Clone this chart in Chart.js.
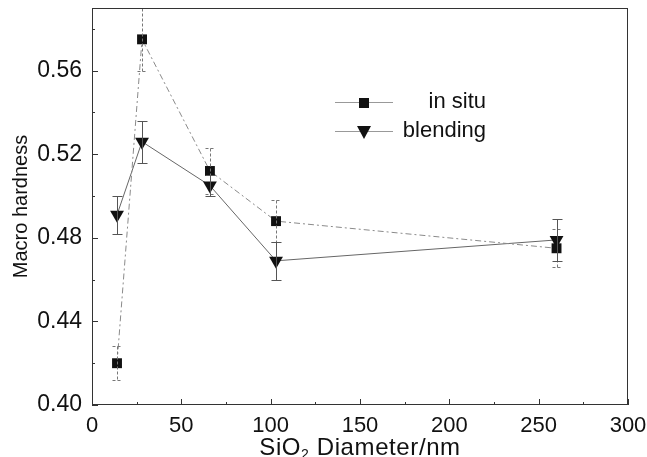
<!DOCTYPE html>
<html>
<head>
<meta charset="utf-8">
<script src="https://cdn.jsdelivr.net/npm/chart.js@4.4.0/dist/chart.umd.min.js"></script>
<style>
  body { margin: 0; background: #fff; }
  #wrap { width: 647px; height: 457px; }
</style>
</head>
<body>
<div id="wrap"><canvas id="hardness" width="647" height="457"></canvas></div>
<script>
diameters = [14, 28, 66, 103, 260];

inSitu    = [0.420, 0.575, 0.512, 0.488, 0.475];
inSituErr = [0.008, 0.015, 0.011, 0.010, 0.009];

blending    = [0.491, 0.526, 0.505, 0.469, 0.479];
blendingErr = [0.009, 0.010, 0.005, 0.009, 0.010];

xTicks = [0, 50, 100, 150, 200, 250, 300];
yTicks = [0.40, 0.44, 0.48, 0.52, 0.56];

seriesNames = ['in situ', 'blending'];

const FONT = "'Liberation Sans', Arial, sans-serif";

const toPoints = (ys) => diameters.map((d, i) => ({x: d, y: ys[i]}));

// error bars, inward ticks, frame, legend box and the x title with its subscript
const decorations = {
  id: 'decorations',
  afterDatasetsDraw(chart) {
    const ctx = chart.ctx;
    const xs = chart.scales.x, ys = chart.scales.y;
    const a = chart.chartArea;

    ctx.save();
    ctx.beginPath();
    ctx.rect(a.left, a.top, a.right - a.left, a.bottom - a.top);
    ctx.clip();
    chart.data.datasets.forEach((ds) => {
      ctx.strokeStyle = ds.errColor;
      ctx.lineWidth = 1;
      ctx.setLineDash(ds.errDash);
      ds.data.forEach((p, i) => {
        const e = ds.err[i];
        const px = Math.round(xs.getPixelForValue(p.x)) + 0.5;
        const top = Math.round(ys.getPixelForValue(p.y + e)) + 0.5;
        const bot = Math.round(ys.getPixelForValue(p.y - e)) + 0.5;
        ctx.beginPath();
        ctx.moveTo(px, top); ctx.lineTo(px, bot);
        ctx.moveTo(px - 5, top); ctx.lineTo(px + 5, top);
        ctx.moveTo(px - 5, bot); ctx.lineTo(px + 5, bot);
        ctx.stroke();
      });
    });
    ctx.restore();

    ctx.save();
    ctx.strokeStyle = '#333';
    ctx.lineWidth = 1;
    ctx.strokeRect(a.left + 0.5, a.top + 0.5, a.right - a.left - 1, a.bottom - a.top - 1);

    ctx.beginPath();
    for (let v = 0; v <= 300; v += 25) {
      const px = Math.round(xs.getPixelForValue(v)) + 0.5;
      const len = v % 50 === 0 ? 6 : 3;
      ctx.moveTo(px, a.bottom); ctx.lineTo(px, a.bottom - len);
    }
    for (let k = 0; k <= 9; k++) {
      const v = 0.40 + k * 0.02;
      const py = Math.round(ys.getPixelForValue(v)) + 0.5;
      const len = k % 2 === 0 ? 6 : 3;
      ctx.moveTo(a.left, py); ctx.lineTo(a.left + len, py);
    }
    ctx.stroke();

    // legend
    const lx = 335, items = [{y: 102, ds: chart.data.datasets[0]}, {y: 131, ds: chart.data.datasets[1]}];
    items.forEach((it) => {
      ctx.strokeStyle = '#999';
      ctx.setLineDash([]);
      ctx.beginPath();
      ctx.moveTo(lx, it.y + 0.5); ctx.lineTo(lx + 58, it.y + 0.5);
      ctx.stroke();
      ctx.fillStyle = '#111';
      if (it.ds.pointStyle === 'rect') {
        ctx.fillRect(lx + 24, it.y - 4, 10, 10);
      } else {
        ctx.beginPath();
        ctx.moveTo(lx + 22, it.y - 5); ctx.lineTo(lx + 36, it.y - 5); ctx.lineTo(lx + 29, it.y + 8);
        ctx.closePath(); ctx.fill();
      }
    });
    ctx.font = '22px ' + FONT;
    ctx.fillStyle = '#111';
    ctx.textBaseline = 'middle';
    ctx.textAlign = 'right';
    ctx.fillText(seriesNames[0], 486, 102);
    ctx.fillText(seriesNames[1], 486, 131);

    // x title: SiO2 with a lowered small 2
    const parts = [
      {t: 'SiO', size: 24, dy: 0},
      {t: '2', size: 14, dy: 4},
      {t: ' Diameter/nm', size: 24, dy: 0}
    ];
    ctx.textAlign = 'left';
    ctx.textBaseline = 'alphabetic';
    ctx.letterSpacing = '0.6px';
    let total = 0;
    parts.forEach((p) => { ctx.font = p.size + 'px ' + FONT; p.w = ctx.measureText(p.t).width; total += p.w; });
    let tx = (a.left + a.right) / 2 - total / 2;
    parts.forEach((p) => {
      ctx.font = p.size + 'px ' + FONT;
      ctx.fillText(p.t, tx, 455 + p.dy);
      tx += p.w;
    });
    ctx.restore();
  }
};

const createChart = () => {
  const config = {
    type: 'line',
    data: {
      datasets: [
        {
          label: seriesNames[0],
          data: toPoints(inSitu),
          err: inSituErr,
          errColor: '#777',
          errDash: [3, 2],
          borderColor: '#8a8a8a',
          borderWidth: 1,
          borderDash: [6, 3, 2, 3],
          pointStyle: 'rect',
          pointRadius: 7,
          backgroundColor: '#111',
          pointBorderColor: '#111',
          pointBorderWidth: 0,
          fill: false,
          tension: 0
        },
        {
          label: seriesNames[1],
          data: toPoints(blending),
          err: blendingErr,
          errColor: '#555',
          errDash: [],
          borderColor: '#666',
          borderWidth: 1,
          pointStyle: 'triangle',
          pointRotation: 180,
          pointRadius: 8,
          backgroundColor: '#111',
          pointBorderColor: '#111',
          pointBorderWidth: 0,
          fill: false,
          tension: 0
        }
      ]
    },
    options: {
      responsive: false,
      animation: false,
      layout: { padding: { top: 8, right: 19, left: 0, bottom: 0 } },
      plugins: { legend: { display: false }, tooltip: { enabled: false } },
      scales: {
        x: {
          type: 'linear',
          min: 0, max: 300,
          afterBuildTicks: (s) => { s.ticks = xTicks.map(v => ({value: v})); },
          afterFit: (s) => { s.height = 52; s.paddingLeft = 0; s.paddingRight = 0; },
          grid: { display: false, drawTicks: false },
          border: { display: false },
          ticks: { color: '#111', padding: 8, maxRotation: 0, font: { family: FONT, size: 22 } },
          title: { display: false }
        },
        y: {
          type: 'linear',
          min: 0.40, max: 0.59,
          afterBuildTicks: (s) => { s.ticks = yTicks.map(v => ({value: v})); },
          afterFit: (s) => { s.width = 92; s.paddingTop = 0; s.paddingBottom = 0; },
          grid: { display: false, drawTicks: false },
          border: { display: false },
          ticks: { color: '#111', padding: 10, font: { family: FONT, size: 23 },
                   callback: (v) => v.toFixed(2) },
          title: { display: true, text: 'Macro hardness', color: '#111', padding: { top: 9, bottom: 0 },
                   font: { family: FONT, size: 20 } }
        }
      }
    },
    plugins: [decorations]
  };
  new Chart(document.getElementById('hardness'), config);
};

createChart();
</script>
</body>
</html>
